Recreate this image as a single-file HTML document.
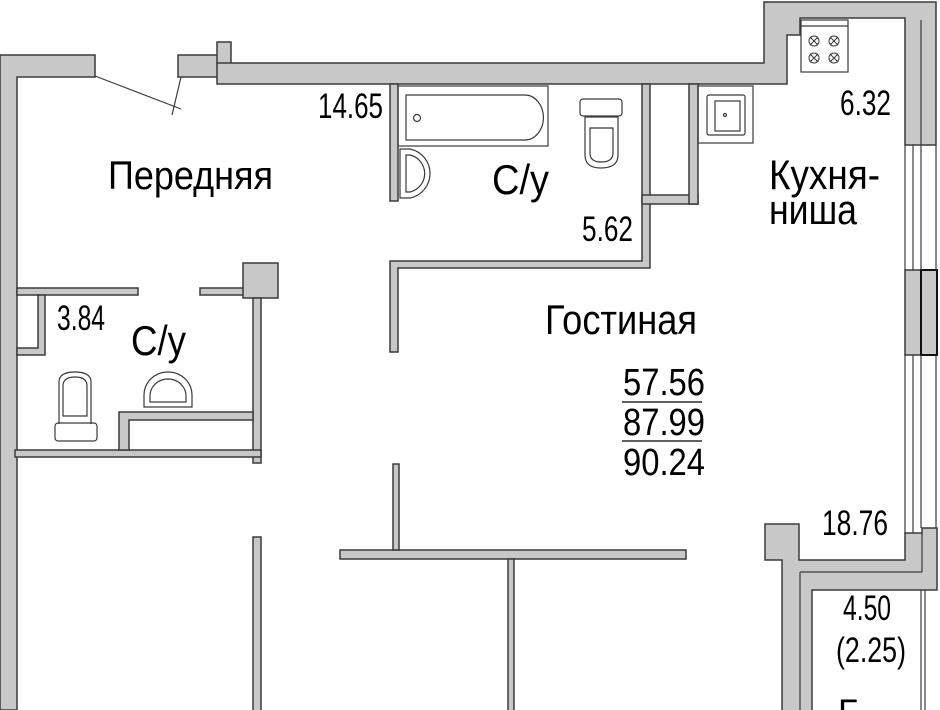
<!DOCTYPE html>
<html><head><meta charset="utf-8"><style>
html,body{margin:0;padding:0;background:#fff;width:940px;height:710px;overflow:hidden}
svg{display:block}
text{font-family:"Liberation Sans",sans-serif;fill:#000}
</style></head><body>
<svg width="940" height="710" viewBox="0 0 940 710" xmlns="http://www.w3.org/2000/svg">
<g fill="#c8c8c8" stroke="#3a3a3a" stroke-width="1.5">
<polygon points="0,55 95,55 95,77 17,77 17,710 0,710"/>
<rect x="178" y="55" width="40" height="22"/>
<rect x="217" y="42" width="14" height="22"/>
<polygon points="217,63 764,63 764,2 936,2 936,145 905,145 905,18 800,18 800,35 787,35 787,84 217,84"/>
<rect x="390" y="84" width="8" height="117"/>
<polygon points="390,261 642,261 642,84 650,84 650,268 398,268 398,352 390,352"/>
<rect x="642" y="195" width="56" height="9"/>
<rect x="689" y="84" width="9" height="120"/>
<rect x="905" y="270" width="16" height="85"/>
<rect x="921" y="270" width="16" height="85" stroke="#111" stroke-width="2"/>
<rect x="17" y="288" width="121" height="7"/>
<rect x="200" y="288" width="45" height="7"/>
<rect x="243" y="263" width="35" height="35"/>
<rect x="253" y="298" width="8" height="165"/>
<polygon points="38,295 45,295 45,355 17,355 17,348 38,348"/>
<rect x="15" y="450" width="246" height="7"/>
<polygon points="119,412 253,412 253,420 129,420 129,450 119,450"/>
<rect x="253" y="537" width="8" height="175"/>
<rect x="340" y="550" width="346" height="9"/>
<rect x="393" y="464" width="6" height="86"/>
<rect x="508" y="559" width="6" height="153"/>
<polygon points="765,524 799,524 799,560 905,560 905,533 922,533 922,528 937,528 937,590 812,590 812,712 782,712 782,560 765,560"/>
</g>
<g fill="none" stroke="#3a3a3a" stroke-width="1.2">
<line x1="800" y1="572" x2="922" y2="572"/>
<line x1="800" y1="572" x2="800" y2="712"/>
<line x1="922" y1="533" x2="922" y2="572"/>
<line x1="905" y1="145" x2="905" y2="270"/><line x1="913" y1="145" x2="913" y2="270"/><line x1="921" y1="145" x2="921" y2="270"/><line x1="936" y1="145" x2="936" y2="270"/>
<line x1="905" y1="355" x2="905" y2="533"/><line x1="913" y1="355" x2="913" y2="533"/><line x1="921" y1="355" x2="921" y2="528"/><line x1="936" y1="355" x2="936" y2="528"/>
<line x1="921" y1="590" x2="921" y2="710"/><line x1="925" y1="590" x2="925" y2="710"/>
<line x1="921" y1="20" x2="921" y2="145"/>
<line x1="95" y1="76" x2="181" y2="109"/>
<line x1="181" y1="77" x2="172" y2="115"/>
<rect x="398" y="86" width="150" height="60"/>
<path d="M406,95 H525 A18,22 0 0 1 525,140 H406 Z"/>
<circle cx="417" cy="118" r="3.5"/>
<path d="M400,149 H410 A25,25 0 0 1 410,198 H400 Z"/>
<path d="M406,155 H410 A19,19 0 0 1 410,192 H406 Z"/>
<rect x="580" y="99" width="42" height="17" rx="3"/>
<path d="M585,117 H618 V155 Q618,168 601,168 Q585,168 585,155 Z"/>
<path d="M590,128 H613 V153 Q613,162 601,162 Q590,162 590,153 Z"/>
<rect x="698" y="86" width="55" height="57"/>
<rect x="707" y="95" width="38" height="40" rx="2"/>
<rect x="715" y="101" width="25" height="30"/>
<circle cx="725" cy="115" r="1.5"/>
<rect x="801" y="20" width="47" height="52"/>
<line x1="801" y1="26" x2="848" y2="26"/>
<g stroke-width="1">
<circle cx="814" cy="41" r="5"/><circle cx="834" cy="41" r="5"/><circle cx="814" cy="58" r="5"/><circle cx="834" cy="58" r="5"/>
<path d="M810,37 l8,8 M818,37 l-8,8 M830,37 l8,8 M838,37 l-8,8 M810,54 l8,8 M818,54 l-8,8 M830,54 l8,8 M838,54 l-8,8"/>
</g>
<rect x="55" y="423" width="42" height="18" rx="3"/>
<path d="M59,424 V382 Q59,372 75,372 Q91,372 91,382 V424"/>
<path d="M63,416 V386 Q63,377 75,377 Q87,377 87,386 V416 Z"/>
<path d="M144,407 V395 A24,23 0 0 1 192,395 V407 Z"/>
<path d="M150,402 V396 A18,17 0 0 1 186,396 V402 Z"/>
<line x1="622" y1="402" x2="702" y2="402" stroke="#000"/>
<line x1="622" y1="441" x2="702" y2="441" stroke="#000"/>
</g>
<g>
<text x="108" y="189" font-size="40" textLength="165" lengthAdjust="spacingAndGlyphs">Передняя</text>
<text x="318" y="118" font-size="35" textLength="65" lengthAdjust="spacingAndGlyphs">14.65</text>
<text x="492" y="194" font-size="42" textLength="57" lengthAdjust="spacingAndGlyphs">С/у</text>
<text x="582" y="241" font-size="35" textLength="51" lengthAdjust="spacingAndGlyphs">5.62</text>
<text x="840" y="115" font-size="35" textLength="51" lengthAdjust="spacingAndGlyphs">6.32</text>
<text x="769" y="189" font-size="42" textLength="111" lengthAdjust="spacingAndGlyphs">Кухня-</text>
<text x="769" y="224" font-size="42" textLength="88" lengthAdjust="spacingAndGlyphs">ниша</text>
<text x="545" y="334" font-size="42" textLength="152" lengthAdjust="spacingAndGlyphs">Гостиная</text>
<text x="57" y="330" font-size="35" textLength="48" lengthAdjust="spacingAndGlyphs">3.84</text>
<text x="131" y="355" font-size="42" textLength="55" lengthAdjust="spacingAndGlyphs">С/у</text>
<text x="623" y="395" font-size="38" textLength="82" lengthAdjust="spacingAndGlyphs">57.56</text>
<text x="623" y="435" font-size="38" textLength="82" lengthAdjust="spacingAndGlyphs">87.99</text>
<text x="623" y="475" font-size="38" textLength="82" lengthAdjust="spacingAndGlyphs">90.24</text>
<text x="822" y="535" font-size="35" textLength="66" lengthAdjust="spacingAndGlyphs">18.76</text>
<text x="843" y="620" font-size="35" textLength="48" lengthAdjust="spacingAndGlyphs">4.50</text>
<text x="836" y="662" font-size="35" textLength="70" lengthAdjust="spacingAndGlyphs">(2.25)</text>
<text x="838" y="724" font-size="35">Б</text>
</g>
</svg>
</body></html>
